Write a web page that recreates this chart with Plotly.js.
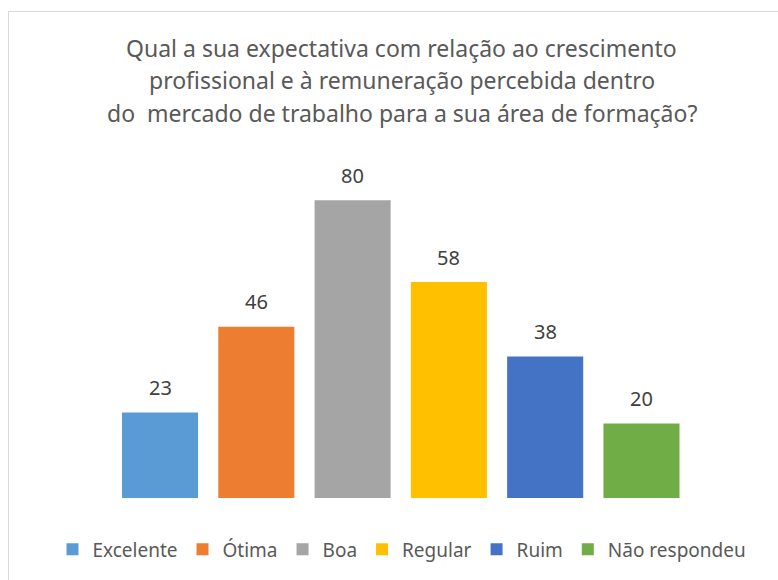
<!DOCTYPE html>
<html>
<head>
<meta charset="utf-8">
<script src="https://cdn.plot.ly/plotly-3.0.1.min.js"></script>
<style>
html,body{margin:0;padding:0;background:#fff;overflow:hidden;}
#frame{position:absolute;left:8px;top:11px;width:900px;height:700px;border-top:1px solid #d9d9d9;border-left:1px solid #d9d9d9;}
#chart{position:absolute;left:0;top:0;width:778px;height:580px;}
</style>
</head>
<body>
<div id="frame"></div>
<div id="chart"></div>
<script>
const categories = ["Excelente", "Ótima", "Boa", "Regular", "Ruim", "Não respondeu"];
const values = [23, 46, 80, 58, 38, 20];
const colors = ["#5B9BD5", "#ED7D31", "#A5A5A5", "#FFC000", "#4472C4", "#70AD47"];
const titleLines = [
  "Qual a sua expectativa com relação ao crescimento",
  "profissional e à remuneração percebida dentro",
  "do  mercado de trabalho para a sua área de formação?"
];

const FONT = "'Noto Sans', 'Open Sans', sans-serif";

const traces = categories.map((c, i) => ({
  type: "bar",
  name: c,
  x: [c],
  y: [values[i]],
  marker: {color: colors[i]},
  hoverinfo: "x+y"
}));

const annotations = [];
categories.forEach((c, i) => {
  annotations.push({
    x: c, y: values[i], xref: "x", yref: "y",
    text: String(values[i]), showarrow: false,
    yshift: 25, yanchor: "middle",
    font: {family: FONT, size: 20, color: "#404040"}
  });
});
const titleY = [1.343, 1.248, 1.149];
titleLines.forEach((t, i) => {
  annotations.push({
    x: 0.5176, y: titleY[i], xref: "paper", yref: "paper",
    text: t, showarrow: false, xanchor: "center", yanchor: "middle",
    font: {family: FONT, size: 23, color: "#595959"}
  });
});

const layout = {
  width: 778, height: 580,
  margin: {l: 20, r: 20, t: 163, b: 82, autoexpand: false},
  paper_bgcolor: "rgba(0,0,0,0)",
  plot_bgcolor: "rgba(0,0,0,0)",
  barmode: "overlay",
  bargap: 0.21,
  showlegend: true,
  legend: {
    orientation: "h", xref: "paper", yref: "container",
    x: 0.5176, xanchor: "center", y: 0.0526, yanchor: "middle",
    font: {family: FONT, size: 19, color: "#595959"},
    itemwidth: 30, traceorder: "normal"
  },
  xaxis: {
    categoryorder: "array", categoryarray: categories,
    range: [-1.454, 6.21],
    showticklabels: false, showgrid: false, zeroline: false, showline: false, ticks: "",
    fixedrange: true
  },
  yaxis: {
    range: [0, 90], showticklabels: false, showgrid: false, zeroline: false, showline: false,
    fixedrange: true
  },
  annotations: annotations,
  font: {family: FONT, color: "#595959"}
};

Plotly.newPlot("chart", traces, layout, {displayModeBar: false, staticPlot: true});
</script>
</body>
</html>
